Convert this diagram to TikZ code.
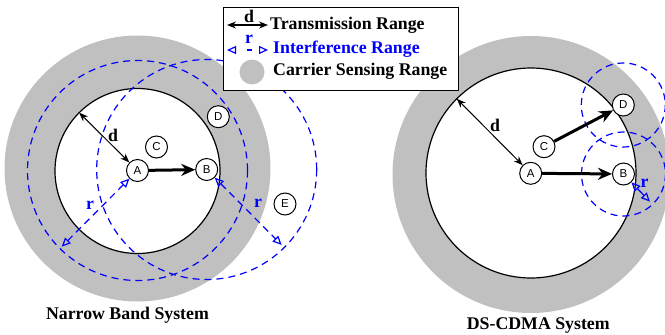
\documentclass[tikz,border=0pt]{standalone}
\usepackage{fontspec}
\setmainfont{Liberation Serif}
\newfontfamily\nodefont{Liberation Sans}
\usetikzlibrary{arrows.meta}
\definecolor{csgray}{RGB}{192,192,192}
\definecolor{irblue}{RGB}{0,0,255}
\begin{document}
\begin{tikzpicture}[x=1pt,y=-1pt,
  station/.style={circle,draw=black,fill=white,line width=1pt,minimum size=22pt,inner sep=0pt,font=\nodefont\fontsize{11.5}{12}\selectfont},
  txrange/.style={draw=black,line width=1.2pt,fill=white},
  sense/.style={fill=csgray},
  intf/.style={draw=irblue,line width=1.2pt,dash pattern=on 7pt off 5pt},
  txarrow/.style={draw=black,line width=1pt,{Stealth[length=9pt,width=7pt]}-{Stealth[length=9pt,width=7pt]}},
  linkarrow/.style={draw=black,line width=3pt,-{Stealth[length=14pt,width=12pt]}},
  rarrow/.style={draw=irblue,line width=1.2pt,dash pattern=on 7pt off 5pt,{Triangle[open,length=9pt,width=8pt]}-{Triangle[open,length=9pt,width=8pt]}},
  lbl/.style={font=\bfseries\fontsize{17.8}{20}\selectfont,inner sep=0pt},
  legbox/.style={draw=black,line width=1.3pt,fill=white}
]
\useasboundingbox (0,0) rectangle (665,335);

% ---------- positions ----------
\coordinate (pA) at (137.5,170.5);
\coordinate (pB) at (206.7,169.5);
\coordinate (pC) at (156.5,147);
\coordinate (pD) at (218.3,116.7);
\coordinate (pE) at (285,204);
\coordinate (qA) at (530.7,173.3);
\coordinate (qB) at (623.5,174);
\coordinate (qC) at (544,146.7);
\coordinate (qD) at (623.3,105);

% ---------- Narrow band system ----------
\fill[sense] (137.5,168.5) circle[radius=133];
\draw[txrange] (137.5,171) circle[radius=82.5];
\draw[intf] (pA) circle[radius=110];
\draw[intf] (pB) circle[radius=110];

\node[station] (lA) at (pA) {A};
\node[station] (lB) at (pB) {B};
\node[station] (lC) at (pC) {C};
\node[station] (lD) at (pD) {D};
\node[station] (lE) at (pE) {E};

\coordinate (ld) at (79.2,112.7);
\coordinate (lr1) at (61.7,246.7);
\coordinate (lr2) at (281.7,245);
\draw[txarrow] (lA) -- (ld);
\draw[linkarrow] (lA) -- (lB);
\draw[rarrow] (lA) -- (lr1);
\draw[rarrow] (lB) -- (lr2);
\node[lbl] (ldl) at (113,135) {d};
\node[lbl,text=irblue] (lrl1) at (90,205) {r};
\node[lbl,text=irblue] (lrl2) at (258,203.5) {r};

\node[lbl,anchor=base] (nbs) at (127.5,319) {Narrow Band System};

% ---------- DS-CDMA system ----------
\fill[sense] (531,174.5) circle[radius=138.5];
\draw[txrange] (531,173) circle[radius=105];
\draw[intf] (qD) circle[radius=42];
\draw[intf] (qB) circle[radius=42];

\node[station] (rA) at (qA) {A};
\node[station] (rB) at (qB) {B};
\node[station] (rC) at (qC) {C};
\node[station] (rD) at (qD) {D};

\coordinate (rd) at (456.8,98.8);
\coordinate (rr) at (650,201.7);
\draw[txarrow] (rA) -- (rd);
\draw[linkarrow] (rA) -- (rB);
\draw[linkarrow] (rC) -- (rD);
\draw[rarrow,dash pattern=on 20pt off 0pt] (rB) -- (rr);
\node[lbl] (rdl) at (495,125.5) {d};
\node[lbl,text=irblue] (rrl) at (644.5,183.5) {r};

\node[lbl,anchor=base] (dss) at (538.3,329.5) {DS-CDMA System};

% ---------- legend ----------
\node[legbox,minimum width=235pt,minimum height=83pt,inner sep=0pt,anchor=north west] (leg) at (223,7) {};
\coordinate (g1a) at (227,25);
\coordinate (g1b) at (268,25);
\draw[txarrow,line width=1.4pt] (g1a) -- (g1b);
\node[lbl] (g1d) at (249,16.5) {d};
\node[lbl,anchor=base west] (g1t) at (270,29.3) {Transmission Range};
\coordinate (g2a) at (227,50);
\coordinate (g2b) at (268,50);
\draw[rarrow,dash pattern=on 0pt off 11pt on 5pt off 30pt] (g2a) -- (g2b);
\node[lbl,text=irblue] (g2r) at (249,39.5) {r};
\node[lbl,text=irblue,anchor=base west] (g2t) at (273,53.3) {Interference Range};
\fill[sense] (252,72) circle[radius=12.5];
\node[lbl,anchor=base west] (g3t) at (273,75.3) {Carrier Sensing Range};
\end{tikzpicture}
\end{document}
